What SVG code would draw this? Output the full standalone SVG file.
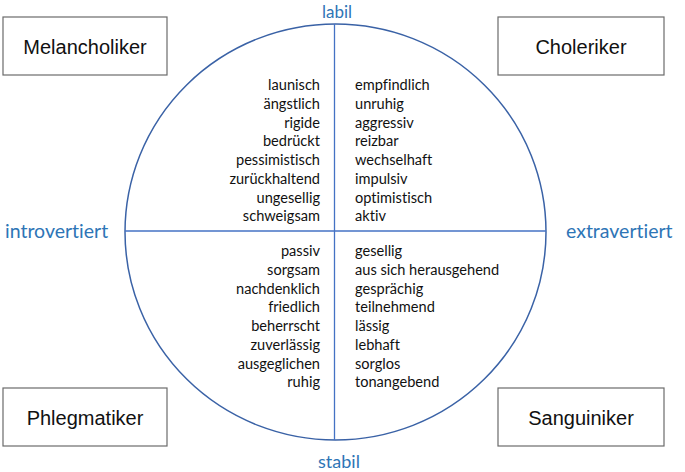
<svg xmlns="http://www.w3.org/2000/svg" width="685" height="472" viewBox="0 0 685 472">
<style>
text{font-variant-ligatures:none}
.box{fill:#fff;stroke:#6b6b6b;stroke-width:1.2}
.bt{font-family:"Liberation Sans",Arial,sans-serif;font-size:20px;fill:#111;text-anchor:middle}
.lab{font-family:Lato,"Open Sans",sans-serif;font-size:18px;fill:#2E75B6}
.top{font-size:17px}
.side{font-size:19.5px}
.w{font-family:Lato,"Open Sans",sans-serif;font-size:14.6px;fill:#111}
.l{text-anchor:end}
.ax{stroke:#4472C4;stroke-width:1.3;fill:none}
</style>
<rect width="685" height="472" fill="#fff"/>
<g id="connectors">
<ellipse cx="335.5" cy="232" rx="210.5" ry="208" fill="none" stroke="#3A62A6" stroke-width="1.5"/>
<line class="ax" x1="334.5" y1="24" x2="334.5" y2="440"/>
<line class="ax" x1="125" y1="231" x2="546" y2="231"/>
</g>
<g id="melancholiker"><rect class="box" x="3" y="17" width="164" height="58"/><text class="bt" x="85" y="54">Melancholiker</text></g>
<g id="choleriker"><rect class="box" x="498" y="17" width="166" height="58"/><text class="bt" x="581" y="54">Choleriker</text></g>
<g id="phlegmatiker"><rect class="box" x="3" y="388" width="164" height="58"/><text class="bt" x="85" y="425">Phlegmatiker</text></g>
<g id="sanguiniker"><rect class="box" x="498" y="388" width="166" height="58"/><text class="bt" x="581" y="425">Sanguiniker</text></g>
<g id="labels">
<text class="lab top" x="337" y="17.5" text-anchor="middle">labil</text>
<text class="lab" x="339" y="468" text-anchor="middle">stabil</text>
<text class="lab side" x="5" y="238">introvertiert</text>
<text class="lab side" x="566" y="238">extravertiert</text>
</g>
<g id="melancholiker-traits" class="w l">
<text x="320" y="90">launisch</text>
<text x="320" y="108.8">ängstlich</text>
<text x="320" y="127.5">rigide</text>
<text x="320" y="146.3">bedrückt</text>
<text x="320" y="165">pessimistisch</text>
<text x="320" y="183.8">zurückhaltend</text>
<text x="320" y="202.5">ungesellig</text>
<text x="320" y="221.3">schweigsam</text>
</g>
<g id="choleriker-traits" class="w">
<text x="355" y="90">empfindlich</text>
<text x="355" y="108.8">unruhig</text>
<text x="355" y="127.5">aggressiv</text>
<text x="355" y="146.3">reizbar</text>
<text x="355" y="165">wechselhaft</text>
<text x="355" y="183.8">impulsiv</text>
<text x="355" y="202.5">optimistisch</text>
<text x="355" y="221.3">aktiv</text>
</g>
<g id="phlegmatiker-traits" class="w l">
<text x="320" y="256">passiv</text>
<text x="320" y="274.8">sorgsam</text>
<text x="320" y="293.5">nachdenklich</text>
<text x="320" y="312.3">friedlich</text>
<text x="320" y="331">beherrscht</text>
<text x="320" y="349.8">zuverlässig</text>
<text x="320" y="368.5">ausgeglichen</text>
<text x="320" y="387.3">ruhig</text>
</g>
<g id="sanguiniker-traits" class="w">
<text x="355" y="256">gesellig</text>
<text x="355" y="274.8">aus sich herausgehend</text>
<text x="355" y="293.5">gesprächig</text>
<text x="355" y="312.3">teilnehmend</text>
<text x="355" y="331">lässig</text>
<text x="355" y="349.8">lebhaft</text>
<text x="355" y="368.5">sorglos</text>
<text x="355" y="387.3">tonangebend</text>
</g>
</svg>
